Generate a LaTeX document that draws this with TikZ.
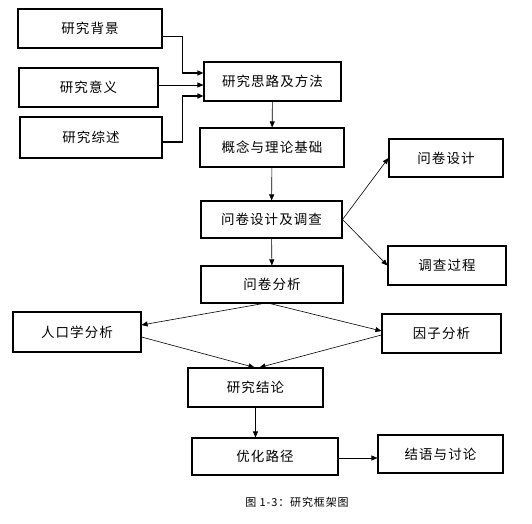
\documentclass[tikz,border=0pt]{standalone}
\usepackage{fontspec}
\setmainfont{Noto Sans CJK SC}[LetterSpace=8]
\usepackage{tikz}
\usetikzlibrary{arrows.meta,positioning,calc}

\begin{document}
\begin{tikzpicture}[x=1pt, y=1pt,
    box/.style={draw, line width=1.1pt, inner sep=0pt, font=\fontsize{13.5}{15}\selectfont},
    arr/.style={-{Triangle[length=6pt, width=5pt]}, line width=0.6pt},
    elbow/.style={arr, line width=1.2pt}
]
\useasboundingbox (0,0) rectangle (532,523);
% upper column
\node[box, minimum width=144, minimum height=39] (bg) at (90,494.5) {研究背景};
\node[box, minimum width=139, minimum height=39] (yy) at (88.5,435.5) {研究意义};
\node[box, minimum width=142, minimum height=41] (zs) at (91,385.5) {研究综述};
\node[box, minimum width=137, minimum height=39] (sl) at (272.5,441.5) {研究思路及方法};
\node[box, minimum width=144, minimum height=39] (gn) at (272,375.5) {概念与理论基础};
\node[box, minimum width=141, minimum height=37] (wjdc) at (271.5,303.5) {问卷设计及调查};
\node[box, minimum width=114, minimum height=38] (wjsj) at (446,365) {问卷设计};
\node[box, minimum width=118, minimum height=39] (dcgc) at (447,257.5) {调查过程};
\node[box, minimum width=142, minimum height=37] (wjfx) at (272,238.5) {问卷分析};
% lower part
\node[box, minimum width=128, minimum height=40] (rk) at (77,191) {人口学分析};
\node[box, minimum width=119, minimum height=39] (yz) at (441.5,189.5) {因子分析};
\node[box, minimum width=135, minimum height=39] (jl) at (255.5,135.5) {研究结论};
\node[box, minimum width=146, minimum height=37] (yh) at (265,66.5) {优化路径};
\node[box, minimum width=125, minimum height=38] (jy) at (440.5,69) {结语与讨论};
\node[font=\fontsize{11}{13}\selectfont] (cap) at (297,21) {图 1-3：研究框架图};

\draw[elbow] ([yshift=-8pt]bg.east) -- ++(20,0) |- ([yshift=8.5pt]sl.west);
\draw[arr] ([yshift=2.5pt]yy.east) -- ([yshift=2.5pt]yy.east -| sl.west);
\draw[elbow] ([yshift=-4.5pt]zs.east) -- ++(20,0) |- ([yshift=-14.5pt]sl.west);
\draw[arr] (sl) -- (gn);
\draw[arr] (gn) -- (wjdc);
\draw[arr] (wjdc.east) -- (wjsj.west);
\draw[arr] (wjdc.east) -- (dcgc.west);
\draw[arr] (wjdc) -- (wjfx);
\draw[arr] ([xshift=-9pt]wjfx.south) -- ([yshift=7pt]rk.east);
\draw[arr] ([xshift=-2pt]wjfx.south) -- ([yshift=2.5pt]yz.west);
\draw[arr] ([yshift=-5pt]rk.east) -- ([xshift=-1pt]jl.north);
\draw[arr] ([yshift=-1.5pt]yz.west) -- ([xshift=4pt]jl.north);
\draw[arr] (jl.south) -- (jl.south |- yh.north);
\draw[arr] ([yshift=-1.5pt]yh.east) -- ([yshift=-1.5pt]yh.east -| jy.west);
\end{tikzpicture}
\end{document}
